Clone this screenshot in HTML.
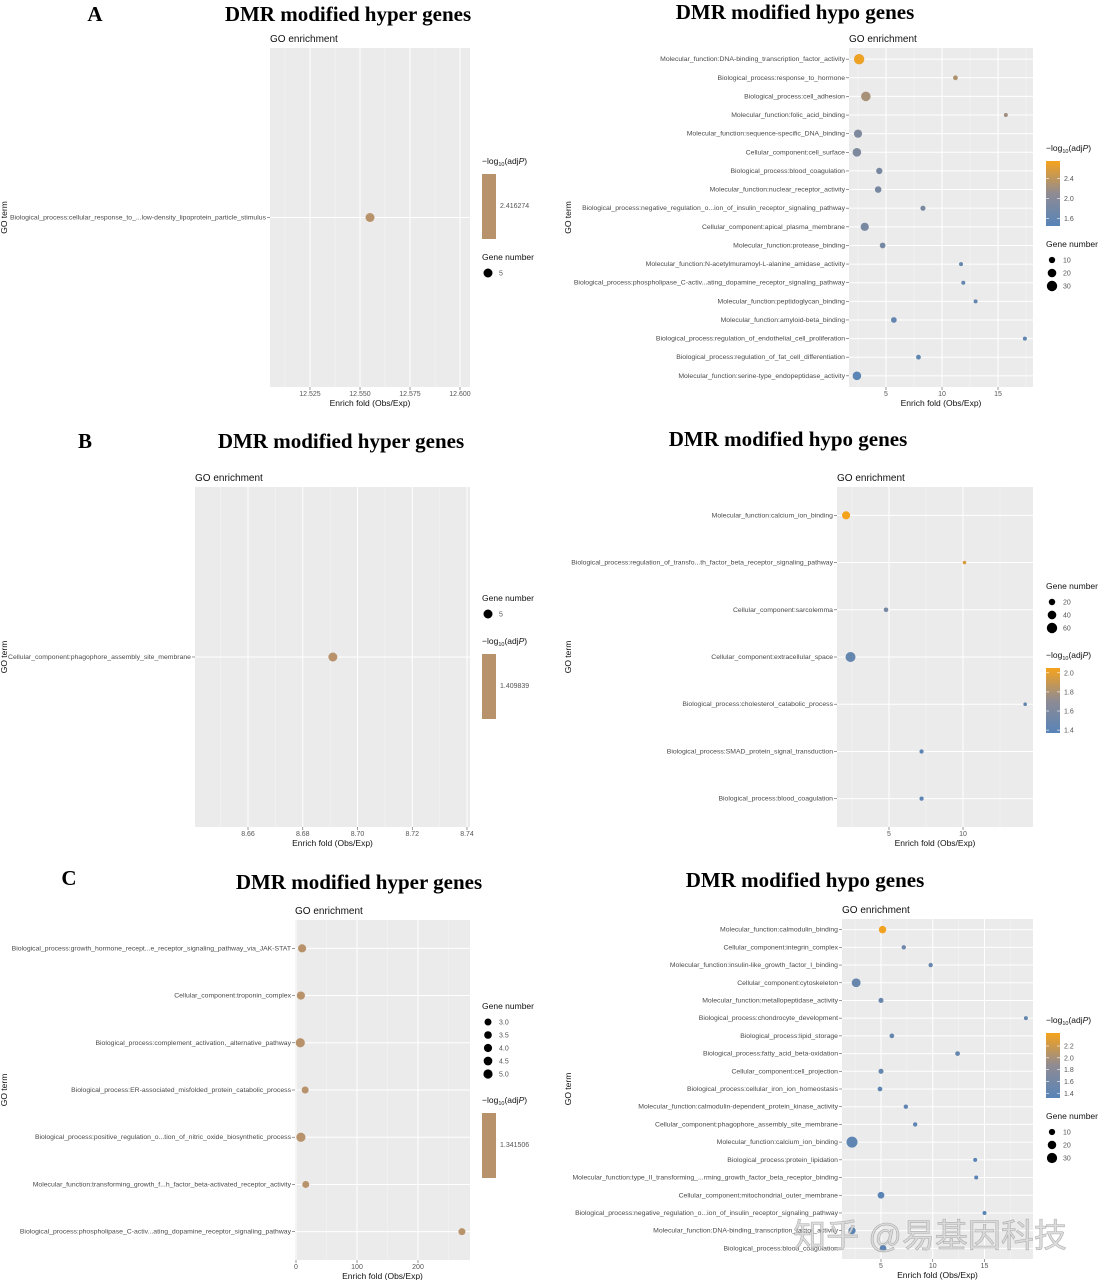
<!DOCTYPE html>
<html><head><meta charset="utf-8">
<style>
body{margin:0;background:#fff;}
svg{display:block;font-family:"Liberation Sans",sans-serif;}
.ttl{font-family:"Liberation Serif",serif;font-weight:bold;font-size:21px;fill:#000;}
.ylab{font-size:6.85px;fill:#4a4a4a;}
.tick{font-size:7px;fill:#555;}
.sm{font-size:8.5px;fill:#111;}
.go{font-size:10px;fill:#111;}
</style></head>
<body>
<svg id="fig" width="1098" height="1280" viewBox="0 0 1098 1280" xmlns="http://www.w3.org/2000/svg">
<rect width="1098" height="1280" fill="#fff"/>
<text class="ttl" x="95" y="21" text-anchor="middle" font-size="22">A</text>
<text class="ttl" x="348" y="21" text-anchor="middle">DMR modified hyper genes</text>
<text class="ttl" x="795" y="19" text-anchor="middle">DMR modified hypo genes</text>
<text class="ttl" x="85" y="448" text-anchor="middle" font-size="22">B</text>
<text class="ttl" x="341" y="448" text-anchor="middle">DMR modified hyper genes</text>
<text class="ttl" x="788" y="446" text-anchor="middle">DMR modified hypo genes</text>
<text class="ttl" x="69" y="885" text-anchor="middle" font-size="22">C</text>
<text class="ttl" x="359" y="889" text-anchor="middle">DMR modified hyper genes</text>
<text class="ttl" x="805" y="887" text-anchor="middle">DMR modified hypo genes</text>
<g id="plots"></g>
<text x="930" y="1247" text-anchor="middle" font-family="'Liberation Sans','Noto Sans CJK SC',sans-serif" font-size="33" fill="rgba(215,215,215,0.85)" stroke="rgba(120,120,120,0.5)" stroke-width="0.6">知乎 @易基因科技</text>
</svg>
<script>
// ---- Panel A hyper ----
const aLeftTerms=["Biological_process:cellular_response_to_...low-density_lipoprotein_particle_stimulus"];
const aLeftFold=[12.555];
const aLeftGenes=[5];
const aLeftTicks=[12.525,12.550,12.575,12.600];
const aLeftTickLabels=["12.525","12.550","12.575","12.600"];
// ---- Panel A hypo ----
const aRightTerms=["Molecular_function:DNA-binding_transcription_factor_activity","Biological_process:response_to_hormone","Biological_process:cell_adhesion","Molecular_function:folic_acid_binding","Molecular_function:sequence-specific_DNA_binding","Cellular_component:cell_surface","Biological_process:blood_coagulation","Molecular_function:nuclear_receptor_activity","Biological_process:negative_regulation_o...ion_of_insulin_receptor_signaling_pathway","Cellular_component:apical_plasma_membrane","Molecular_function:protease_binding","Molecular_function:N-acetylmuramoyl-L-alanine_amidase_activity","Biological_process:phospholipase_C-activ...ating_dopamine_receptor_signaling_pathway","Molecular_function:peptidoglycan_binding","Molecular_function:amyloid-beta_binding","Biological_process:regulation_of_endothelial_cell_proliferation","Biological_process:regulation_of_fat_cell_differentiation","Molecular_function:serine-type_endopeptidase_activity"];
const aRightFold=[2.6,11.2,3.2,15.7,2.5,2.4,4.4,4.3,8.3,3.1,4.7,11.7,11.9,13.0,5.7,17.4,7.9,2.4];
const aRightGenes=[30,5,25,3,18,20,10,11,6,18,8,3,3,3,8,3,5,20];
const aRightLogP=[2.7,2.3,2.25,2.2,1.9,1.9,1.85,1.85,1.85,1.85,1.8,1.6,1.6,1.6,1.6,1.55,1.55,1.5];
const aRightTicks=[5,10,15];
const aRightTickLabels=["5","10","15"];
// ---- Panel B hyper ----
const bLeftTerms=["Cellular_component:phagophore_assembly_site_membrane"];
const bLeftFold=[8.691];
const bLeftGenes=[5];
const bLeftTicks=[8.66,8.68,8.70,8.72,8.74];
const bLeftTickLabels=["8.66","8.68","8.70","8.72","8.74"];
// ---- Panel B hypo ----
const bRightTerms=["Molecular_function:calcium_ion_binding","Biological_process:regulation_of_transfo...th_factor_beta_receptor_signaling_pathway","Cellular_component:sarcolemma","Cellular_component:extracellular_space","Biological_process:cholesterol_catabolic_process","Biological_process:SMAD_protein_signal_transduction","Biological_process:blood_coagulation"];
const bRightFold=[2.1,10.1,4.8,2.4,14.2,7.2,7.2];
const bRightGenes=[35,3,8,55,3,6,6];
const bRightLogP=[2.05,1.95,1.55,1.45,1.45,1.4,1.4];
const bRightTicks=[5,10];
const bRightTickLabels=["5","10"];
// ---- Panel C hyper ----
const cLeftTerms=["Biological_process:growth_hormone_recept...e_receptor_signaling_pathway_via_JAK-STAT","Cellular_component:troponin_complex","Biological_process:complement_activation,_alternative_pathway","Biological_process:ER-associated_misfolded_protein_catabolic_process","Biological_process:positive_regulation_o...tion_of_nitric_oxide_biosynthetic_process","Molecular_function:transforming_growth_f...h_factor_beta-activated_receptor_activity","Biological_process:phospholipase_C-activ...ating_dopamine_receptor_signaling_pathway"];
const cLeftFold=[10,8,7,15,8,16,272];
const cLeftGenes=[4,4,5,3,5,3,3];
const cLeftTicks=[0,100,200];
const cLeftTickLabels=["0","100","200"];
// ---- Panel C hypo ----
const cRightTerms=["Molecular_function:calmodulin_binding","Cellular_component:integrin_complex","Molecular_function:insulin-like_growth_factor_I_binding","Cellular_component:cytoskeleton","Molecular_function:metallopeptidase_activity","Biological_process:chondrocyte_development","Biological_process:lipid_storage","Biological_process:fatty_acid_beta-oxidation","Cellular_component:cell_projection","Biological_process:cellular_iron_ion_homeostasis","Molecular_function:calmodulin-dependent_protein_kinase_activity","Cellular_component:phagophore_assembly_site_membrane","Molecular_function:calcium_ion_binding","Biological_process:protein_lipidation","Molecular_function:type_II_transforming_...rming_growth_factor_beta_receptor_binding","Cellular_component:mitochondrial_outer_membrane","Biological_process:negative_regulation_o...ion_of_insulin_receptor_signaling_pathway","Molecular_function:DNA-binding_transcription_factor_activity","Biological_process:blood_coagulation"];
const cRightFold=[5.15,7.2,9.8,2.6,5.0,19.0,6.05,12.4,5.0,4.9,7.4,8.3,2.2,14.1,14.2,5.0,15.0,2.2,5.2];
const cRightGenes=[15,4,4,22,6,3,5,5,6,5,4,4,35,3,3,12,3,14,12];
const cRightLogP=[2.4,1.55,1.5,1.5,1.5,1.45,1.45,1.45,1.45,1.4,1.4,1.4,1.4,1.35,1.35,1.35,1.35,1.35,1.35];
const cRightTicks=[5,10,15];
const cRightTickLabels=["5","10","15"];

const NS="http://www.w3.org/2000/svg";
const root=document.getElementById('plots');
function mk(tag,attrs,parent,txt){const e=document.createElementNS(NS,tag);for(const k in attrs)e.setAttribute(k,attrs[k]);if(txt!==undefined)e.textContent=txt;(parent||root).appendChild(e);return e;}
function lerp(a,b,t){return a+(b-a)*t;}
function hex(c){return [parseInt(c.slice(1,3),16),parseInt(c.slice(3,5),16),parseInt(c.slice(5,7),16)];}
const cLo=hex("#5784b8"),cMid=hex("#8f8b93"),cHi=hex("#f5a31c");
function colorOf(v,cmin,cmax){let t=(v-cmin)/(cmax-cmin);t=Math.max(0,Math.min(1,t));let a,b,u;if(t<0.5){a=cLo;b=cMid;u=t/0.5;}else{a=cMid;b=cHi;u=(t-0.5)/0.5;}return "rgb("+[0,1,2].map(i=>Math.round(lerp(a[i],b[i],u))).join(",")+")";}

function drawPanel(c){
  const g=mk('g',{});
  
  
  const xs=v=>c.p0+(v-c.d0)*(c.p1-c.p0)/(c.d1-c.d0);
  const bg=mk('rect',{x:c.x0,y:c.y0,width:c.x1-c.x0,height:c.y1-c.y0,fill:'#ebebeb'},g);
  
  
  const t=mk('text',{class:'go',x:c.x0,y:c.y0-6},g,'GO enrichment');
  
  
  for(let i=0;i<c.ticks.length-1;i++){const m=xs((c.ticks[i]+c.ticks[i+1])/2);mk('line',{x1:m,x2:m,y1:c.y0,y2:c.y1,stroke:'#f6f6f6','stroke-width':0.5},g);}
  const step=c.ticks.length>1?c.ticks[1]-c.ticks[0]:1;
  [c.ticks[0]-step/2,c.ticks[c.ticks.length-1]+step/2].forEach(v=>{const m=xs(v);if(m>c.x0&&m<c.x1)mk('line',{x1:m,x2:m,y1:c.y0,y2:c.y1,stroke:'#f6f6f6','stroke-width':0.5},g);});
  c.ticks.forEach((v,i)=>{const x=xs(v);
    mk('line',{x1:x,x2:x,y1:c.y0,y2:c.y1,stroke:'#fff','stroke-width':1},g);
    mk('line',{x1:x,x2:x,y1:c.y1,y2:c.y1+3,stroke:'#555','stroke-width':0.6},g);
    const tl=mk('text',{class:'tick',x:x,y:c.y1+9,'text-anchor':'middle'},g,c.tickLabels[i]);
    
    
  });
  const n=c.terms.length,H=c.y1-c.y0;
  const ys=i=>n===1?(c.y0+c.y1)/2:c.y0+(0.6+i)*H/(n-1+1.2);
  c.terms.forEach((term,i)=>{const y=ys(i);
    mk('line',{x1:c.x0,x2:c.x1,y1:y,y2:y,stroke:'#fff','stroke-width':1},g);
    mk('line',{x1:c.x0-3,x2:c.x0,y1:y,y2:y,stroke:'#555','stroke-width':0.6},g);
    const yl=mk('text',{class:'ylab',x:c.x0-4,y:y+2,'text-anchor':'end'},g,term);
    
    
  });
  c.terms.forEach((term,i)=>{
    const gn=c.genes[i];
    const r=Math.sqrt(c.rmin*c.rmin+(c.gmax===c.gmin?0:(gn-c.gmin)/(c.gmax-c.gmin))*(c.rmax*c.rmax-c.rmin*c.rmin));
    const col=c.logp?colorOf(c.logp[i],c.cmin,c.cmax):c.solid;
    const pt=mk('circle',{cx:xs(c.fold[i]),cy:ys(i),r:Math.max(1.5,r),fill:col},g);
    
    
  });
  const xt=mk('text',{class:'sm',x:(c.x0+c.x1)/2,y:c.y1+19,'text-anchor':'middle'},g,'Enrich fold (Obs/Exp)');
  
  
  const yt=mk('text',{class:'sm',x:0,y:0,'text-anchor':'middle',transform:`translate(${c.yTitleX},${(c.y0+c.y1)/2}) rotate(-90)`},g,'GO term');
  
  
  c.legends.forEach(L=>{
    const lg=mk('g',{},g);
    if(L.type==='color'){
      
      
      const tt=mk('text',{class:'sm',x:c.lx,y:L.y},lg);
      tt.innerHTML='−log<tspan font-size="5.5" dy="2">10</tspan><tspan dy="-2">(adj</tspan><tspan font-style="italic">P</tspan>)';
      if(L.labels){
        const gid=c.id+'-grad';
        const d=mk('defs',{},lg);const lgd=mk('linearGradient',{id:gid,x1:0,y1:0,x2:0,y2:1},d);
        mk('stop',{offset:'0%','stop-color':'#f5a31c'},lgd);mk('stop',{offset:'50%','stop-color':'#8f8b93'},lgd);mk('stop',{offset:'100%','stop-color':'#5784b8'},lgd);
        mk('rect',{x:c.lx,y:L.y+10,width:14,height:65,fill:`url(#${gid})`},lg);
        L.labels.forEach(v=>{const yy=L.y+10+65*(c.cmax-v)/(c.cmax-c.cmin);
          mk('line',{x1:c.lx,x2:c.lx+3,y1:yy,y2:yy,stroke:'#fff','stroke-width':0.6},lg);
          mk('line',{x1:c.lx+11,x2:c.lx+14,y1:yy,y2:yy,stroke:'#fff','stroke-width':0.6},lg);
          mk('text',{class:'tick',x:c.lx+18,y:yy+2.5},lg,v.toFixed(1));});
      }else{
        mk('rect',{x:c.lx,y:L.y+10,width:14,height:65,fill:c.solid},lg);
        mk('text',{class:'tick',x:c.lx+18,y:L.y+44,'font-size':6.5},lg,L.single);
      }
    }else{
      
      
      mk('text',{class:'sm',x:c.lx,y:L.y},lg,'Gene number');
      L.values.forEach((v,k)=>{const yy=L.y+13+k*L.gap;
        const r=Math.sqrt(c.rmin*c.rmin+(c.gmax===c.gmin?0:(v-c.gmin)/(c.gmax-c.gmin))*(c.rmax*c.rmax-c.rmin*c.rmin));
        mk('circle',{cx:c.lx+6,cy:yy,r:Math.max(1.5,r),fill:'#000'},lg);
        mk('text',{class:'tick',x:c.lx+17,y:yy+2.5,'font-size':6.5},lg,L.labels[k]);});
    }
  });
}

drawPanel({id:'panel-a-hyper',x0:270,x1:470,y0:48,y1:387,p0:310,p1:460,d0:12.525,d1:12.600,ticks:aLeftTicks,tickLabels:aLeftTickLabels,terms:aLeftTerms,fold:aLeftFold,genes:aLeftGenes,solid:'#b8926a',gmin:5,gmax:5,rmin:4.5,rmax:4.5,yTitleX:7,lx:482,
 legends:[{type:'color',y:164,single:'2.416274'},{type:'size',y:260,values:[5],labels:['5'],gap:13}]});
drawPanel({id:'panel-a-hypo',x0:849,x1:1033,y0:48,y1:387,p0:886,p1:998,d0:5,d1:15,ticks:aRightTicks,tickLabels:aRightTickLabels,terms:aRightTerms,fold:aRightFold,genes:aRightGenes,logp:aRightLogP,cmin:1.45,cmax:2.75,gmin:3,gmax:30,rmin:2,rmax:5.2,yTitleX:571,lx:1046,
 legends:[{type:'color',y:151,labels:[2.4,2.0,1.6]},{type:'size',y:247,values:[10,20,30],labels:['10','20','30'],gap:13}]});
drawPanel({id:'panel-b-hyper',x0:195,x1:470,y0:487,y1:827,p0:248,p1:467,d0:8.66,d1:8.74,ticks:bLeftTicks,tickLabels:bLeftTickLabels,terms:bLeftTerms,fold:bLeftFold,genes:bLeftGenes,solid:'#b8926a',gmin:5,gmax:5,rmin:4.5,rmax:4.5,yTitleX:7,lx:482,
 legends:[{type:'size',y:601,values:[5],labels:['5'],gap:13},{type:'color',y:644,single:'1.409839'}]});
drawPanel({id:'panel-b-hypo',x0:837,x1:1033,y0:487,y1:827,p0:889,p1:963,d0:5,d1:10,ticks:bRightTicks,tickLabels:bRightTickLabels,terms:bRightTerms,fold:bRightFold,genes:bRightGenes,logp:bRightLogP,cmin:1.37,cmax:2.05,gmin:3,gmax:60,rmin:1.8,rmax:5.2,yTitleX:571,lx:1046,
 legends:[{type:'size',y:589,values:[20,40,60],labels:['20','40','60'],gap:13},{type:'color',y:658,labels:[2.0,1.8,1.6,1.4]}]});
drawPanel({id:'panel-c-hyper',x0:295,x1:470,y0:920,y1:1260,p0:296,p1:418,d0:0,d1:200,ticks:cLeftTicks,tickLabels:cLeftTickLabels,terms:cLeftTerms,fold:cLeftFold,genes:cLeftGenes,solid:'#b8926a',gmin:3,gmax:5,rmin:3.5,rmax:4.6,yTitleX:7,lx:482,
 legends:[{type:'size',y:1009,values:[3,3.5,4,4.5,5],labels:['3.0','3.5','4.0','4.5','5.0'],gap:13},{type:'color',y:1103,single:'1.341506'}]});
drawPanel({id:'panel-c-hypo',x0:842,x1:1033,y0:919,y1:1259,p0:881,p1:984.5,d0:5,d1:15,ticks:cRightTicks,tickLabels:cRightTickLabels,terms:cRightTerms,fold:cRightFold,genes:cRightGenes,logp:cRightLogP,cmin:1.32,cmax:2.42,gmin:3,gmax:35,rmin:2,rmax:5.5,yTitleX:571,lx:1046,
 legends:[{type:'color',y:1023,labels:[2.2,2.0,1.8,1.6,1.4]},{type:'size',y:1119,values:[10,20,30],labels:['10','20','30'],gap:13}]});
</script>
</body></html>
